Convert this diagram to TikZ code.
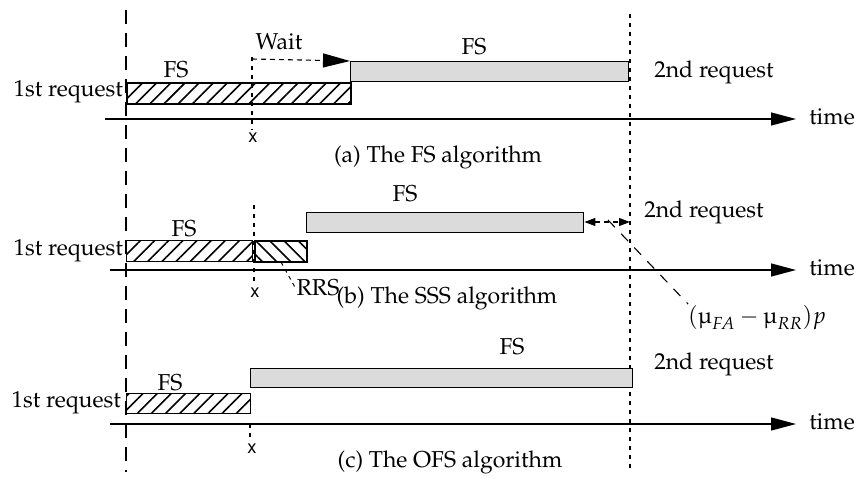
\documentclass[tikz,border=0pt]{standalone}
\usepackage[T1]{fontenc}
\usepackage{mathpazo}
\usepackage[scaled=0.92]{helvet}
\usetikzlibrary{positioning, patterns.meta, arrows.meta}

\begin{document}
\begin{tikzpicture}[
    x=1pt, y=-1pt,
    font=\fontsize{23}{26}\selectfont,
    hatchbox/.style={draw, line width=1.4pt, inner sep=0pt, minimum height=21pt,
      pattern={Lines[angle=45, distance=10pt, line width=1.6pt]}},
    rhatchbox/.style={hatchbox, pattern={Lines[angle=-45, distance=10pt, line width=1.6pt]}},
    graybox/.style={draw, line width=1.4pt, inner sep=0pt, minimum height=20pt, fill=gray!28},
    axis/.style={line width=1.2pt, -{Triangle[length=25pt, width=13pt]}},
    lbl/.style={inner sep=1pt},
    xlbl/.style={lbl, font=\sffamily\fontsize{20}{22}\selectfont},
    startline/.style={line width=1.3pt, dash pattern=on 14pt off 9pt},
    endline/.style={line width=1.2pt, dash pattern=on 4pt off 5pt},
    xline/.style={line width=1.2pt, dash pattern=on 4pt off 5pt}
  ]
  \useasboundingbox (0,0) rectangle (862,480);

  % guide lines
  \draw[startline] (126,10) -- (126,472);
  \draw[endline] (630,14) -- (630,472);

  % (a) the FS algorithm
  \node[hatchbox, minimum width=224pt, anchor=north west] (fsA) at (126,82) {};
  \node[graybox, minimum width=278pt, anchor=north west] (grA) at (350,61) {};
  \node[lbl, anchor=east] (reqA) at (124,92) {1st request};
  \node[lbl] (fsAl) at (176,70) {FS};
  \node[lbl] (grAl) at (474,47) {FS};
  \node[lbl] (sndA) at (714,72) {2nd request};
  \coordinate (axA) at (105,119);
  \coordinate (axAe) at (796,119);
  \draw[axis] (axA) -- (axAe);
  \node[lbl] (timeA) at (832,117) {time};
  \draw[xline] (252,57) -- (252,130);
  \node[xlbl] (xA) at (253,138) {x};
  \coordinate (waitA) at (252,59);
  \draw[line width=1.1pt, dash pattern=on 5pt off 4pt,
    -{Triangle[length=27pt, width=14pt]}] (waitA) -- (grA.north west);
  \node[lbl] (waitAl) at (279,42) {Wait};
  \node[lbl] (captA) at (438,157) {(a) The FS algorithm};

  % (b) the SSS algorithm
  \node[hatchbox, minimum width=126pt, anchor=north west] (fsB) at (126,240) {};
  \node[rhatchbox, minimum width=52pt, anchor=north west] (rrB) at (254,240) {};
  \node[graybox, minimum width=277pt, anchor=north west] (grB) at (306,212) {};
  \node[lbl, anchor=east] (reqB) at (124,251) {1st request};
  \node[lbl] (fsBl) at (184,229) {FS};
  \node[lbl] (grBl) at (405,194) {FS};
  \node[lbl] (sndB) at (704,212) {2nd request};
  \draw[axis] (110,270) -- (796,270);
  \node[lbl] (timeB) at (832,268) {time};
  \draw[xline] (254,205) -- (254,282);
  \node[xlbl] (xB) at (255,293) {x};
  \node[lbl] (rrsB) at (318,288) {RRS};
  \coordinate (rrsBp) at (281,262);
  \draw[line width=1pt, dash pattern=on 4pt off 4pt] (rrsBp) -- (rrsB.west);
  \coordinate (endB) at (630,222);
  \draw[line width=1.1pt, dash pattern=on 5pt off 4pt,
    {Triangle[length=11pt, width=8pt]}-{Triangle[length=11pt, width=8pt]}]
    (grB.east |- endB) -- (endB);
  \node[lbl] (muB) at (757,318) {$(\mbox{\textmu}_{FA}-\mbox{\textmu}_{RR})p$};
  \coordinate (muBp) at (608,220);
  \draw[line width=1.1pt, dash pattern=on 10pt off 9pt] (muBp) -- (688,304);
  \node[lbl] (captB) at (447,298) {(b) The SSS algorithm};

  % (c) the OFS algorithm
  \node[hatchbox, minimum width=124pt, minimum height=20pt, anchor=north west] (fsC) at (126,393) {};
  \node[graybox, minimum width=382pt, minimum height=19pt, anchor=north west] (grC) at (250,368) {};
  \node[lbl, anchor=east] (reqC) at (122,403) {1st request};
  \node[lbl] (fsCl) at (170,383) {FS};
  \node[lbl] (grCl) at (512,347) {FS};
  \node[lbl] (sndC) at (714,364) {2nd request};
  \draw[axis] (110,424) -- (796,424);
  \node[lbl] (timeC) at (832,422) {time};
  \draw[xline] (250,424) -- (250,440);
  \node[xlbl] (xC) at (252,449) {x};
  \node[lbl] (captC) at (450,462) {(c) The OFS algorithm};
\end{tikzpicture}
\end{document}
